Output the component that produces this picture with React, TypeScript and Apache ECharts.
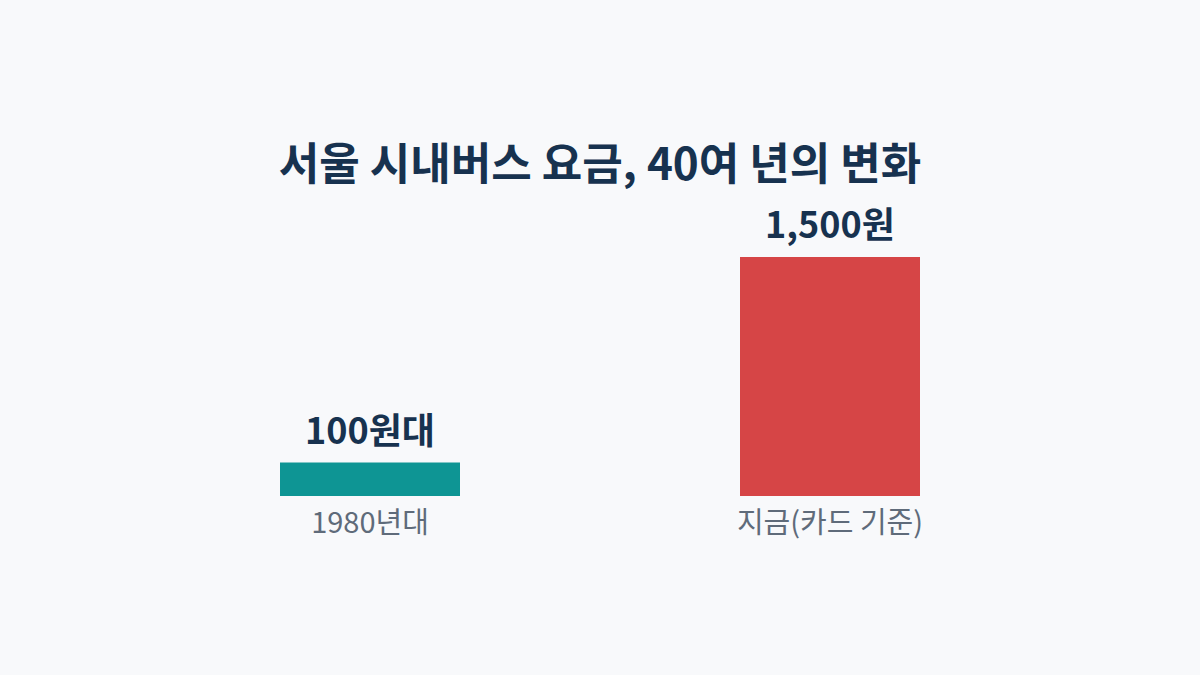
import { useEffect, useRef } from "react";
import * as echarts from "echarts";

const categories = ["1980년대", "지금(카드 기준)"];
// 막대 높이
const barValues = [210, 1500];
const valueLabels = ["100원대", "1,500원"];
const barColors = ["#0e9594", "#d64546"];

const FONT = "'Noto Sans CJK KR', 'Noto Sans', sans-serif";

const App = () => {
  const chartRef = useRef<HTMLDivElement>(null);

  useEffect(() => {
    if (!chartRef.current) {
      return;
    }
    document.body.style.margin = "0";

    const chart = echarts.init(chartRef.current, null, { renderer: "svg" });

    const option: echarts.EChartsOption = {
      animation: false,
      backgroundColor: "#f8f9fb",
      title: {
        text: "서울 시내버스 요금, 40여 년의 변화",
        left: "center",
        top: 134,
        textStyle: {
          color: "#17324f",
          fontFamily: FONT,
          fontSize: 44,
          fontWeight: "bold",
        },
      },
      grid: {
        left: 140,
        right: 140,
        top: 257,
        bottom: 179,
      },
      xAxis: {
        type: "category",
        data: categories,
        axisLine: { show: false },
        axisTick: { show: false },
        axisLabel: {
          color: "#5f6b7a",
          fontFamily: FONT,
          fontSize: 29,
          margin: 9,
        },
      },
      yAxis: {
        type: "value",
        min: 0,
        max: 1500,
        show: false,
        splitLine: { show: false },
      },
      series: [
        {
          type: "bar",
          barWidth: 180,
          data: barValues.map((v, i) => ({
            value: v,
            itemStyle: { color: barColors[i] },
          })),
          label: {
            show: true,
            position: "top",
            distance: 17,
            color: "#17324f",
            fontFamily: FONT,
            fontSize: 36,
            fontWeight: "bold",
            formatter: (p: any) => valueLabels[p.dataIndex],
          },
        },
      ],
    };

    chart.setOption(option);

    return () => {
      chart.dispose();
    };
  }, []);

  return (
    <div
      ref={chartRef}
      style={{ width: "1200px", height: "675px", position: "fixed", left: 0, top: 0 }}
    />
  );
};

export default App;
